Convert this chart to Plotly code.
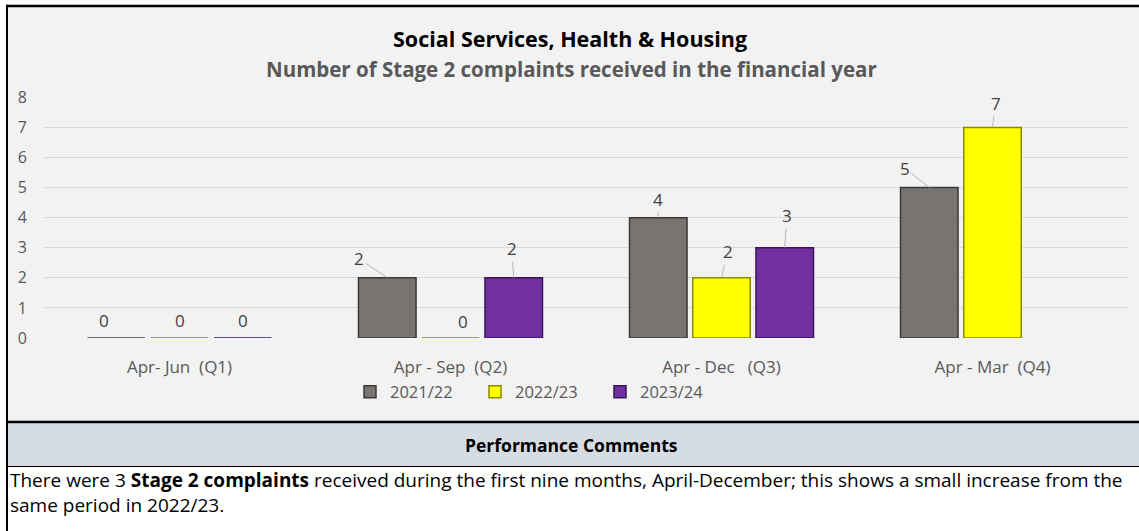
import plotly.graph_objects as go

# ---- data ----
categories = ["Apr-\u00a0Jun\u00a0\u00a0(Q1)", "Apr\u00a0-\u00a0Sep\u00a0\u00a0(Q2)",
              "Apr\u00a0-\u00a0Dec\u00a0\u00a0\u00a0(Q3)", "Apr\u00a0-\u00a0Mar\u00a0\u00a0(Q4)"]
series_names = ["2021/22", "2022/23", "2023/24"]
values_2021_22 = [0, 2, 4, 5]
values_2022_23 = [0, 0, 2, 7]
values_2023_24 = [0, 2, 3, None]
y_ticks = [0, 1, 2, 3, 4, 5, 6, 7, 8]

title_text = "Social Services, Health & Housing"
subtitle_text = "Number of Stage 2 complaints received in the financial year"
comments_header = "Performance Comments"
comment_lines = [
    "There were 3 <b>Stage 2 complaints</b> received during the first nine months, April-December; this shows a small increase from the",
    "same period in 2022/23.",
]

# ---- style ----
W, H = 1139, 531
FONT = "Open Sans"
fills = ["#787472", "#FFFF00", "#7030A0"]
edges = ["#3B3938", "#8A8A00", "#3A1656"]
bargap = 0.3
bargroupgap = 0.09
# data-label offsets in pixels (label relative to bar top), per series per category
label_dx = [[-12, -28, 0, -24], [0, 12, 6, 3], [0, -2, 2, 0]]
label_dy = [[-17, -15, -14, -15], [-17, -16, -22, -20], [-17, -25, -28, 0]]

def py(y):
    return 1 - y / H

def px(x):
    return x / W

all_series = [values_2021_22, values_2022_23, values_2023_24]

fig = go.Figure()
for name, vals, fc, ec in zip(series_names, all_series, fills, edges):
    fig.add_trace(go.Bar(
        x=categories, y=vals, name=name,
        marker=dict(color=fc, line=dict(color=ec, width=1.5)),
    ))

# data labels with leader lines (no leader for zero values)
n = len(series_names)
slot = (1 - bargap) / n
annotations = []
for si, vals in enumerate(all_series):
    for ci, v in enumerate(vals):
        if v is None:
            continue
        xpos = ci + (si - (n - 1) / 2) * slot
        lab_font = dict(family=FONT, size=17, color="#404040")
        if v == 0:
            annotations.append(dict(
                x=xpos, y=v, xref="x", yref="y", text=str(v), showarrow=False,
                xshift=label_dx[si][ci], yshift=-label_dy[si][ci],
                xanchor="center", yanchor="middle", font=lab_font,
            ))
        else:
            annotations.append(dict(
                x=xpos, y=v, xref="x", yref="y", text=str(v),
                showarrow=True, arrowhead=0, arrowwidth=0.8, arrowcolor="#A6A6A6",
                ax=label_dx[si][ci], ay=label_dy[si][ci] - 4,
                standoff=0, font=lab_font,
            ))

# titles and comments
annotations += [
    dict(x=px(570), y=py(39), xref="paper", yref="paper", text="<b>" + title_text + "</b>",
         xanchor="center", yanchor="middle",
         showarrow=False, font=dict(family=FONT, size=21.5, color="#000000")),
    dict(x=px(571), y=py(69), xref="paper", yref="paper", text="<b>" + subtitle_text + "</b>",
         xanchor="center", yanchor="middle",
         showarrow=False, font=dict(family=FONT, size=20.5, color="#595959")),
    dict(x=px(571), y=py(445), xref="paper", yref="paper", text="<b>" + comments_header + "</b>",
         xanchor="center", yanchor="middle",
         showarrow=False, font=dict(family=FONT, size=17.5, color="#000000")),
    dict(x=px(8), y=py(492), xref="paper", yref="paper", text="<br>".join(comment_lines),
         xanchor="left", yanchor="middle", align="left",
         showarrow=False, font=dict(family=FONT, size=19, color="#000000")),
]

shapes = [
    dict(type="rect", xref="paper", yref="paper", x0=px(7), x1=1, y0=py(422), y1=py(6),
         fillcolor="#F2F2F2", line=dict(width=0), layer="below"),
    dict(type="rect", xref="paper", yref="paper", x0=px(7), x1=1, y0=py(466.5), y1=py(423),
         fillcolor="#D6DCE4", line=dict(width=0), layer="below"),
    dict(type="line", xref="paper", yref="paper", x0=px(6), x1=1, y0=py(6), y1=py(6),
         line=dict(color="#000000", width=2.5)),
    dict(type="line", xref="paper", yref="paper", x0=px(7), x1=px(7), y0=py(4.8), y1=0,
         line=dict(color="#000000", width=2)),
    dict(type="line", xref="paper", yref="paper", x0=px(6), x1=1, y0=py(422), y1=py(422),
         line=dict(color="#000000", width=2.5)),
    dict(type="line", xref="paper", yref="paper", x0=px(6), x1=1, y0=py(466.5), y1=py(466.5),
         line=dict(color="#000000", width=1)),
]

fig.update_layout(
    width=W, height=H,
    margin=dict(l=0, r=0, t=0, b=0, pad=0, autoexpand=False),
    paper_bgcolor="#FFFFFF", plot_bgcolor="rgba(0,0,0,0)",
    barmode="group", bargap=bargap, bargroupgap=bargroupgap,
    font=dict(family=FONT, color="#595959"),
    showlegend=True,
    legend=dict(orientation="h", x=px(350), xanchor="left", y=py(392), yanchor="middle",
                font=dict(family=FONT, size=16.5, color="#595959"), bgcolor="rgba(0,0,0,0)",
                tracegroupgap=0, entrywidth=80, entrywidthmode="pixels"),
    annotations=annotations,
    shapes=shapes,
    xaxis=dict(domain=[px(44), px(1128)], showgrid=False, zeroline=False, showline=False,
               tickfont=dict(family=FONT, size=17, color="#595959"), ticklabelstandoff=17,
               automargin=False, fixedrange=True),
    yaxis=dict(domain=[py(338), py(97.3)], range=[0, 8], tickvals=y_ticks,
               showgrid=True, gridcolor="#D9D9D9", gridwidth=1, zeroline=False, showline=False,
               tickfont=dict(family=FONT, size=16, color="#595959"), ticklabelstandoff=16,
               automargin=False, fixedrange=True),
)

fig.write_html("out.html", post_script="document.body.style.margin='0px';",
               config={"displayModeBar": False})
